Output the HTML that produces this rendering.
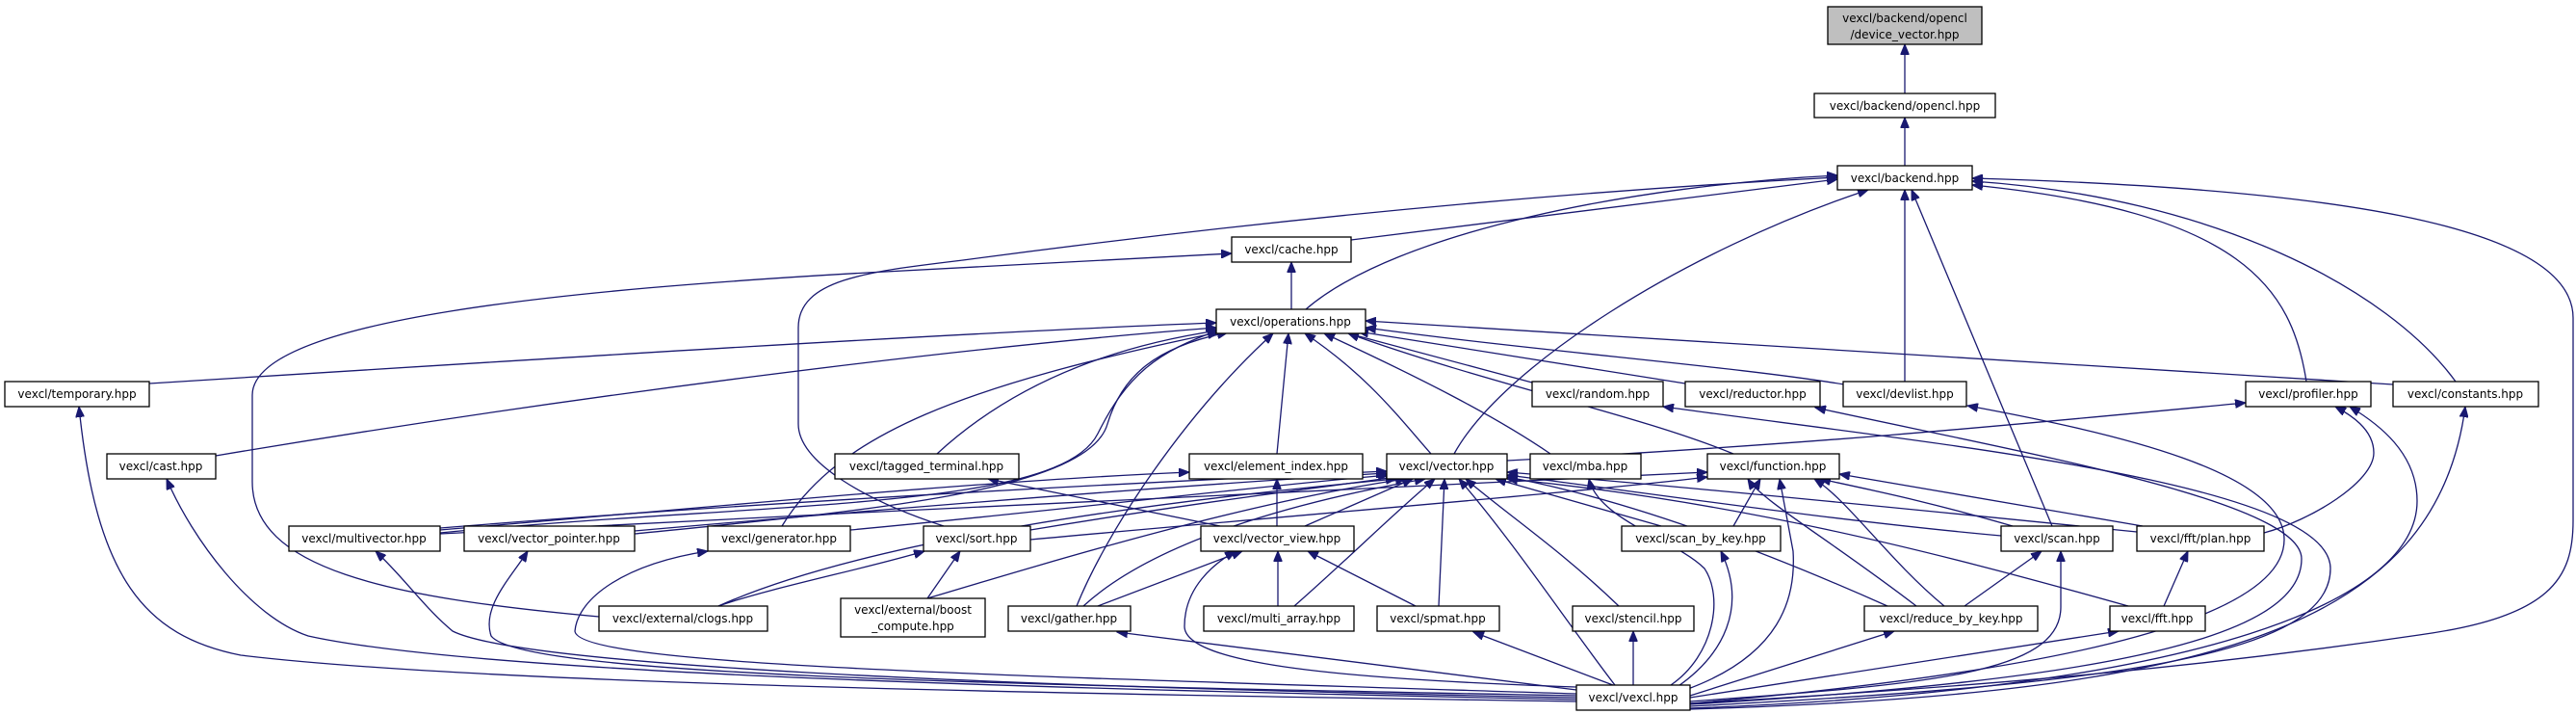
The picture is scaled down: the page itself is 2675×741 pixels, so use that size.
<!DOCTYPE html>
<html><head><meta charset="utf-8"><style>
html,body{margin:0;padding:0;background:#fff;}
svg{display:block;}
text{font-family:"DejaVu Sans","Liberation Sans",sans-serif;font-size:12px;fill:#000;}
.e{fill:none;stroke:#191970;stroke-width:1.3;marker-end:url(#a);}
.n{fill:#fff;stroke:#000;stroke-width:1.3;}
</style></head><body>
<svg width="2675" height="741" viewBox="0 0 2675 741" xmlns="http://www.w3.org/2000/svg">
<defs><marker id="a" markerWidth="12" markerHeight="9" refX="11" refY="4.5" orient="auto" markerUnits="userSpaceOnUse"><path d="M0,0 L11,4.5 L0,9z" fill="#191970" stroke="#191970"/></marker></defs>
<g>
<path class="e" d="M1978,97 L1978,46"/>
<path class="e" d="M1978,172 L1978,122"/>
<path class="e" d="M1403,249 C1600,225 1800,200 1908,186"/>
<path class="e" d="M1356,321 C1450,240 1700,192 1908,182"/>
<path class="e" d="M1341,321 L1341,272"/>
<path class="e" d="M1510,471 C1560,380 1750,260 1940,197"/>
<path class="e" d="M1978,396 L1978,197"/>
<path class="e" d="M2131,546 L1985,197"/>
<path class="e" d="M2395,396 C2380,300 2330,220 2048,192"/>
<path class="e" d="M2550,396 C2480,300 2300,205 2048,188"/>
<path class="e" d="M1755,730 C2100,710 2300,690 2512,659 C2650,640 2672,600 2672,540 L2672,330 C2672,230 2400,195 2048,185"/>
<path class="e" d="M622,640 C400,620 262,590 262,500 L262,410 C262,330 600,300 900,283 L1279,263"/>
<path class="e" d="M980,546 C900,520 829,480 829,440 L829,340 C829,290 900,282 1000,270 C1300,230 1600,200 1908,184"/>
<path class="e" d="M155,398 C600,370 1000,345 1263,335"/>
<path class="e" d="M224,473 C600,410 1000,360 1263,340"/>
<path class="e" d="M973,471 C1050,400 1150,360 1265,343"/>
<path class="e" d="M1326,471 L1338,346"/>
<path class="e" d="M1486,471 C1450,430 1420,390 1355,346"/>
<path class="e" d="M1610,471 C1550,430 1470,390 1375,346"/>
<path class="e" d="M1591,397 L1400,346"/>
<path class="e" d="M1750,398 L1410,344"/>
<path class="e" d="M1915,399 C1800,380 1600,365 1418,340"/>
<path class="e" d="M2485,399 C2100,375 1700,350 1418,333"/>
<path class="e" d="M1800,471 C1700,430 1550,400 1400,346"/>
<path class="e" d="M1118,629 C1150,550 1230,430 1322,346"/>
<path class="e" d="M812,546 C870,450 1000,400 1265,345"/>
<path class="e" d="M457,553 C800,520 1100,530 1140,450 C1170,390 1200,365 1268,342"/>
<path class="e" d="M659,554 C900,530 1130,510 1150,440 C1165,390 1200,360 1275,345"/>
<path class="e" d="M457,548 C800,520 1200,500 1440,489"/>
<path class="e" d="M659,551 C900,530 1200,505 1440,491"/>
<path class="e" d="M883,550 C1100,530 1300,505 1442,493"/>
<path class="e" d="M1070,550 C1250,520 1380,505 1450,495"/>
<path class="e" d="M1355,546 L1467,497"/>
<path class="e" d="M1125,629 C1200,560 1350,520 1480,497"/>
<path class="e" d="M1344,629 C1400,580 1450,530 1490,497"/>
<path class="e" d="M1494,629 L1500,497"/>
<path class="e" d="M1681,629 C1620,570 1560,530 1522,497"/>
<path class="e" d="M1677,711 C1630,650 1570,560 1515,497"/>
<path class="e" d="M1725,546 L1553,497"/>
<path class="e" d="M2078,556 C1900,540 1700,510 1565,493"/>
<path class="e" d="M2219,552 C2000,530 1750,505 1565,490"/>
<path class="e" d="M1960,629 C1850,580 1700,520 1565,495"/>
<path class="e" d="M2210,629 C2000,570 1800,520 1565,497"/>
<path class="e" d="M746,629 C900,560 1200,520 1450,497"/>
<path class="e" d="M963,621 C1100,580 1300,520 1460,497"/>
<path class="e" d="M1565,478 C1900,460 2100,440 2332,418"/>
<path class="e" d="M1637,728 C1100,720 500,710 250,680 C150,660 100,600 82,422"/>
<path class="e" d="M1637,726 C1100,715 500,700 320,660 C260,640 200,560 173,497"/>
<path class="e" d="M1637,724 C1000,712 540,690 470,655 C440,630 420,600 390,572"/>
<path class="e" d="M1637,722 C1000,710 540,700 510,660 C500,630 530,600 548,572"/>
<path class="e" d="M1637,720 C1000,700 600,690 597,655 C600,620 650,585 735,572"/>
<path class="e" d="M963,621 L997,572"/>
<path class="e" d="M746,629 C800,610 900,590 960,572"/>
<path class="e" d="M1637,713 C1400,705 1230,690 1230,650 C1230,610 1260,585 1283,572"/>
<path class="e" d="M1140,629 L1290,572"/>
<path class="e" d="M1327,629 L1327,572"/>
<path class="e" d="M1470,629 L1358,572"/>
<path class="e" d="M1637,716 L1160,656"/>
<path class="e" d="M1675,711 L1530,656"/>
<path class="e" d="M1696,711 L1696,655"/>
<path class="e" d="M1735,711 C1780,680 1790,620 1770,590 C1740,560 1660,540 1650,497"/>
<path class="e" d="M1740,714 C1790,680 1815,630 1787,572"/>
<path class="e" d="M1750,716 C1850,680 1865,620 1862,572 L1848,497"/>
<path class="e" d="M1755,728 C2000,710 2140,700 2140,630 L2140,572"/>
<path class="e" d="M1755,722 L1967,655"/>
<path class="e" d="M1755,724 L2200,655"/>
<path class="e" d="M1755,730 C2100,700 2372,650 2372,560 C2372,490 2200,450 2043,421"/>
<path class="e" d="M1755,731 C2200,705 2390,660 2390,580 C2390,520 2100,470 1885,423"/>
<path class="e" d="M1755,733 C2200,710 2420,680 2420,590 C2420,500 2000,460 1727,422"/>
<path class="e" d="M1755,735 C2300,715 2510,620 2510,520 C2510,470 2470,440 2440,422"/>
<path class="e" d="M2351,553 C2400,540 2465,500 2465,470 C2465,445 2440,430 2425,422"/>
<path class="e" d="M1755,736 C2300,720 2530,650 2560,422"/>
<path class="e" d="M2247,629 L2272,572"/>
<path class="e" d="M2040,629 L2120,572"/>
<path class="e" d="M2019,629 C1960,580 1920,520 1884,497"/>
<path class="e" d="M1990,629 C1900,560 1830,520 1815,497"/>
<path class="e" d="M1800,546 L1828,497"/>
<path class="e" d="M2090,546 C2000,520 1950,510 1890,497"/>
<path class="e" d="M2225,546 L1910,492"/>
<path class="e" d="M1267,546 L1026,497"/>
<path class="e" d="M1326,546 L1326,497"/>
<path class="e" d="M457,550 C700,530 1000,500 1235,490"/>
<path class="e" d="M457,554 C900,530 1400,510 1773,490"/>
<path class="e" d="M1070,560 C1400,530 1650,510 1773,495"/>
</g>
<g>
<rect x="1898" y="7" width="160" height="39" fill="#bfbfbf" stroke="#000" stroke-width="1.3"/>
<text x="1978" y="23" text-anchor="middle">vexcl/backend/opencl</text>
<text x="1978" y="40" text-anchor="middle">/device_vector.hpp</text>

<rect class="n" x="1884" y="97" width="188" height="25"/><text x="1978" y="114" text-anchor="middle">vexcl/backend/opencl.hpp</text>
<rect class="n" x="1908" y="172" width="140" height="25"/><text x="1978" y="189" text-anchor="middle">vexcl/backend.hpp</text>
<rect class="n" x="1279" y="246" width="124" height="26"/><text x="1341" y="263" text-anchor="middle">vexcl/cache.hpp</text>
<rect class="n" x="1263" y="321" width="155" height="25"/><text x="1340" y="338" text-anchor="middle">vexcl/operations.hpp</text>

<rect class="n" x="5" y="396" width="150" height="26"/><text x="80" y="413" text-anchor="middle">vexcl/temporary.hpp</text>
<rect class="n" x="1591" y="396" width="136" height="26"/><text x="1659" y="413" text-anchor="middle">vexcl/random.hpp</text>
<rect class="n" x="1750" y="396" width="140" height="26"/><text x="1820" y="413" text-anchor="middle">vexcl/reductor.hpp</text>
<rect class="n" x="1914" y="396" width="128" height="26"/><text x="1978" y="413" text-anchor="middle">vexcl/devlist.hpp</text>
<rect class="n" x="2332" y="396" width="130" height="26"/><text x="2397" y="413" text-anchor="middle">vexcl/profiler.hpp</text>
<rect class="n" x="2485" y="396" width="151" height="26"/><text x="2560" y="413" text-anchor="middle">vexcl/constants.hpp</text>

<rect class="n" x="111" y="471" width="113" height="26"/><text x="167" y="488" text-anchor="middle">vexcl/cast.hpp</text>
<rect class="n" x="867" y="471" width="191" height="26"/><text x="962" y="488" text-anchor="middle">vexcl/tagged_terminal.hpp</text>
<rect class="n" x="1235" y="471" width="180" height="26"/><text x="1325" y="488" text-anchor="middle">vexcl/element_index.hpp</text>
<rect class="n" x="1440" y="471" width="125" height="26"/><text x="1502" y="488" text-anchor="middle">vexcl/vector.hpp</text>
<rect class="n" x="1589" y="471" width="115" height="26"/><text x="1646" y="488" text-anchor="middle">vexcl/mba.hpp</text>
<rect class="n" x="1773" y="471" width="137" height="26"/><text x="1841" y="488" text-anchor="middle">vexcl/function.hpp</text>

<rect class="n" x="300" y="546" width="157" height="26"/><text x="378" y="563" text-anchor="middle">vexcl/multivector.hpp</text>
<rect class="n" x="482" y="546" width="177" height="26"/><text x="570" y="563" text-anchor="middle">vexcl/vector_pointer.hpp</text>
<rect class="n" x="735" y="546" width="148" height="26"/><text x="809" y="563" text-anchor="middle">vexcl/generator.hpp</text>
<rect class="n" x="959" y="546" width="111" height="26"/><text x="1014" y="563" text-anchor="middle">vexcl/sort.hpp</text>
<rect class="n" x="1247" y="546" width="159" height="26"/><text x="1326" y="563" text-anchor="middle">vexcl/vector_view.hpp</text>
<rect class="n" x="1684" y="546" width="165" height="26"/><text x="1766" y="563" text-anchor="middle">vexcl/scan_by_key.hpp</text>
<rect class="n" x="2078" y="546" width="116" height="26"/><text x="2136" y="563" text-anchor="middle">vexcl/scan.hpp</text>
<rect class="n" x="2219" y="546" width="132" height="26"/><text x="2285" y="563" text-anchor="middle">vexcl/fft/plan.hpp</text>

<rect class="n" x="622" y="629" width="175" height="26"/><text x="709" y="646" text-anchor="middle">vexcl/external/clogs.hpp</text>
<rect class="n" x="873" y="621" width="150" height="40"/><text x="948" y="637" text-anchor="middle">vexcl/external/boost</text><text x="948" y="654" text-anchor="middle">_compute.hpp</text>
<rect class="n" x="1047" y="629" width="127" height="26"/><text x="1110" y="646" text-anchor="middle">vexcl/gather.hpp</text>
<rect class="n" x="1250" y="629" width="156" height="26"/><text x="1328" y="646" text-anchor="middle">vexcl/multi_array.hpp</text>
<rect class="n" x="1430" y="629" width="127" height="26"/><text x="1493" y="646" text-anchor="middle">vexcl/spmat.hpp</text>
<rect class="n" x="1633" y="629" width="126" height="26"/><text x="1696" y="646" text-anchor="middle">vexcl/stencil.hpp</text>
<rect class="n" x="1936" y="629" width="180" height="26"/><text x="2026" y="646" text-anchor="middle">vexcl/reduce_by_key.hpp</text>
<rect class="n" x="2191" y="629" width="99" height="26"/><text x="2240" y="646" text-anchor="middle">vexcl/fft.hpp</text>

<rect class="n" x="1637" y="711" width="118" height="26"/><text x="1696" y="728" text-anchor="middle">vexcl/vexcl.hpp</text>
</g>
</svg>
</body></html>
